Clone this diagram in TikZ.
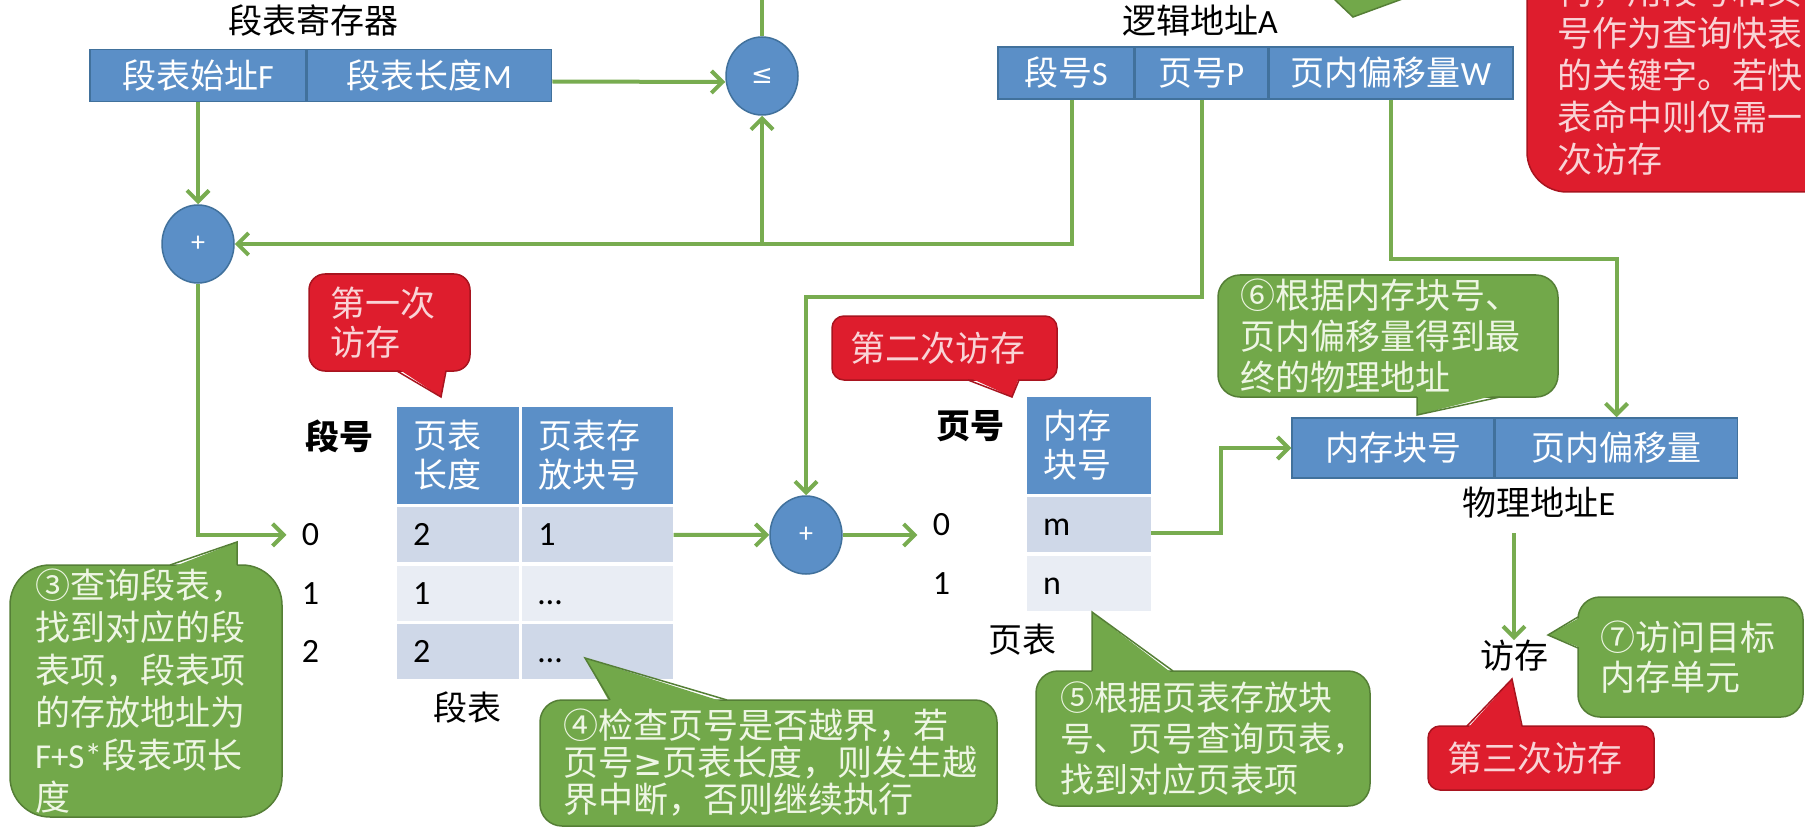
\documentclass[tikz,border=0pt]{standalone}
\usepackage{fontspec}
\setmainfont{Noto Sans CJK SC}
\newfontfamily\lat{Carlito}
\newfontfamily\sym{DejaVu Sans}
\usetikzlibrary{shapes.geometric, arrows.meta, positioning, calc}
\definecolor{boxblue}{HTML}{5B8FC7}
\definecolor{boxedge}{HTML}{41719C}
\definecolor{rowdark}{HTML}{CFD8E8}
\definecolor{rowlight}{HTML}{E9EDF4}
\definecolor{notegreen}{HTML}{72A84A}
\definecolor{noteedge}{HTML}{557F36}
\definecolor{notetext}{HTML}{EEF6E4}
\definecolor{hitred}{HTML}{DE1D2D}
\definecolor{hitedge}{HTML}{A8141F}
\definecolor{hittext}{HTML}{F9D3D6}
\definecolor{flowgreen}{HTML}{78AC50}

\begin{document}
\begin{tikzpicture}[
    x=1pt, y=-1pt,
    txt/.style={font=\fontsize{34}{40}\selectfont, inner sep=0pt},
    regcell/.style={rectangle, draw=boxedge, line width=1.5pt, fill=boxblue, text=white, font=\fontsize{34}{40}\selectfont, minimum height=52pt, inner sep=0pt},
    opnode/.style={ellipse, draw=boxedge, line width=1.5pt, fill=boxblue, text=white, minimum width=72pt, minimum height=78pt, inner sep=0pt, font=\lat\fontsize{28}{30}\selectfont},
    headcell/.style={rectangle, fill=boxblue, text=white, font=\fontsize{34}{39}\selectfont, align=left, inner xsep=16pt, inner ysep=0pt, minimum height=97pt},
    rowcell/.style={rectangle, font=\lat\fontsize{34}{40}\selectfont, align=left, inner xsep=16pt, inner ysep=0pt, minimum height=55pt, text height=22pt, text depth=0pt},
    rowlab/.style={font=\lat\fontsize{34}{40}\selectfont, minimum width=48pt, inner sep=0pt},
    note/.style={rectangle, rounded corners=22pt, draw=noteedge, line width=1.5pt, fill=notegreen, text=notetext, font=\fontsize{35}{41}\selectfont, align=left, inner sep=0pt},
    hit/.style={rectangle, rounded corners=12pt, draw=hitedge, line width=1.5pt, fill=hitred, text=hittext, font=\fontsize{35}{39}\selectfont, align=left, inner sep=0pt},
    noteline/.style={draw=noteedge, line width=1.5pt},
    hitline/.style={draw=hitedge, line width=1.5pt},
    flow/.style={draw=flowgreen, line width=4pt},
    arrow/.style={flow, -{Straight Barb[length=11pt, width=22pt]}}
]
\useasboundingbox (0,0) rectangle (1805,829);
\clip (0,0) rectangle (1805,829);
\fill[white] (0,0) rectangle (1805,829);

% Registers and addresses
\node[txt] (reglab) at (313,21) {段表寄存器};
\node[regcell, minimum width=216pt] (regF) at (198,75.5) {段表始址{\lat F}};
\node[regcell, minimum width=244pt, right=0pt of regF] (regM) {段表长度{\lat M}};

\node[txt] (loglab) at (1200,21) {逻辑地址{\lat A}};
\node[regcell, minimum width=136pt] (lS) at (1066,73) {段号{\lat S}};
\node[regcell, minimum width=132pt, right=0pt of lS] (lP) {页号{\lat P}};
\node[regcell, minimum width=244pt, right=0pt of lP] (lW) {页内偏移量{\lat W}};

\node[opnode, font=\sym\fontsize{26}{30}\selectfont] (leq) at (762,76) {≤};
\node[opnode] (plus1) at (198,244) {+};
\node[opnode] (plus2) at (806,535) {+};

% Segment table
\node[txt, font=\bfseries\fontsize{34}{40}\selectfont] (seghd) at (339,436) {段号};
\node[headcell, text width=90pt] (sh1) at (458,455.5) {页表\\长度};
\node[headcell, text width=119pt, right=3pt of sh1] (sh2) {页表存\\放块号};
\node[rowcell, fill=rowdark, text width=90pt, below=3pt of sh1] (s00) {2};
\node[rowcell, fill=rowdark, text width=119pt, below=3pt of sh2] (s01) {1};
\node[rowcell, fill=rowlight, text width=90pt, below=3pt of s00] (s10) {1};
\node[rowcell, fill=rowlight, text width=119pt, below=3pt of s01] (s11) {…};
\node[rowcell, fill=rowdark, text width=90pt, below=3pt of s10] (s20) {2};
\node[rowcell, fill=rowdark, text width=119pt, below=3pt of s11] (s21) {…};
\node[rowlab, left=62pt of s00] (sl0) {0};
\node[rowlab, left=62pt of s10] (sl1) {1};
\node[rowlab, left=62pt of s20] (sl2) {2};
\node[txt] (segname) at (467,708) {段表};

% Page table
\node[txt, font=\bfseries\fontsize{34}{40}\selectfont] (pghd) at (970,426) {页号};
\node[headcell, text width=92pt] (ph) at (1089,445.5) {内存\\块号};
\node[rowcell, fill=rowdark, text width=92pt, below=3pt of ph] (pr0) {m};
\node[rowcell, fill=rowlight, text width=92pt, below=3pt of pr0] (pr1) {n};
\node[rowlab, left=61pt of pr0] (pl0) {0};
\node[rowlab, left=61pt of pr1] (pl1) {1};
\node[txt] (pgname) at (1022,640) {页表};

% Physical address
\node[regcell, minimum width=202pt, minimum height=60pt] (pBlk) at (1393,448) {内存块号};
\node[regcell, minimum width=242pt, minimum height=60pt, right=0pt of pBlk] (pOff) {页内偏移量};
\node[txt] (physlab) at (1539,503) {物理地址{\lat E}};
\node[txt] (access) at (1514,656) {访存};

% Arrows
\coordinate (leqout) at (762,0);
\coordinate (sbend) at (leq |- plus1);
\coordinate (pbend) at (plus2 |- 0,297);
\coordinate (wbend) at (pOff |- 0,259);
\coordinate (accin) at (access |- 0,533);
\draw[arrow] (regF) -- (plus1);
\draw[arrow] ([yshift=-6pt]regM.east) -- ([yshift=-6pt]leq.west);
\draw[flow] (leq) -- (leqout);
\draw[arrow] ([xshift=6pt]lS.south) |- (plus1);
\draw[arrow] (sbend) -- (leq);
\draw[arrow] (lP) |- (pbend) -- (plus2);
\draw[arrow] (lW) |- (wbend) -- (pOff);
\draw[arrow] (plus1) |- (sl0);
\draw[arrow] (s01) -- (plus2);
\draw[arrow] (plus2) -- (plus2 -| pl0.west);
\draw[arrow] ([yshift=-8pt]pr0.east) -- ++(70,0) |- (pBlk);
\draw[arrow] (accin) -- (access);

% Callouts
\node[note, minimum width=272pt, minimum height=252pt, text width=222pt, rounded corners=40pt, font=\fontsize{35}{42.5}\selectfont] (c3) at (146,691) {③查询段表，\\找到对应的段\\表项，段表项\\的存放地址为\\{\lat F+S*}段表项长\\度};
\fill[notegreen] (170,568) -- (237,542) -- (237,568) -- cycle;
\draw[noteline] (170,565) -- (237,542) -- (237,565);

\node[note, minimum width=457pt, minimum height=126pt, text width=411pt, font=\fontsize{35}{37}\selectfont] (c4) at (768.5,763) {④检查页号是否越界，若\\页号{\sym ≥}页表长度，则发生越\\界中断，否则继续执行};
\fill[notegreen] (610,703) -- (585,658) -- (727,703) -- cycle;
\draw[noteline] (610,700) -- (585,658) -- (727,700);

\node[note, minimum width=334pt, minimum height=135pt, text width=286pt, font=\fontsize{34}{41}\selectfont] (c5) at (1203,738.5) {⑤根据页表存放块\\号、页号查询页表，\\找到对应页表项};
\fill[notegreen] (1092,674) -- (1092,612) -- (1173,674) -- cycle;
\draw[noteline] (1092,671) -- (1092,612) -- (1173,671);

\node[note, minimum width=340pt, minimum height=122pt, text width=296pt] (c6) at (1388,336) {⑥根据内存块号、\\页内偏移量得到最\\终的物理地址};
\fill[notegreen] (1417,394) -- (1417,415) -- (1500,394) -- cycle;
\draw[noteline] (1417,397) -- (1417,415) -- (1500,397);

\node[note, minimum width=225pt, minimum height=120pt, text width=181pt, font=\fontsize{35}{40}\selectfont] (c7) at (1690.5,657) {⑦访问目标\\内存单元};
\fill[notegreen] (1581,617) -- (1548,635) -- (1581,648) -- cycle;
\draw[noteline] (1578,617) -- (1548,635) -- (1578,648);

\node[hit, minimum width=161pt, minimum height=97pt, text width=119pt, rounded corners=16pt] (r1) at (389.5,322.5) {第一次\\访存};
\fill[hitred] (397,368) -- (441,397) -- (446,368) -- cycle;
\draw[hitline] (397,371) -- (441,397) -- (446,371);

\node[hit, minimum width=225pt, minimum height=64pt, text width=189pt] (r2) at (944.5,348) {第二次访存};
\fill[hitred] (968,377) -- (1012,397) -- (1019,377) -- cycle;
\draw[hitline] (968,380) -- (1012,397) -- (1019,380);

\node[hit, minimum width=226pt, minimum height=64pt, text width=188pt] (r3) at (1541,758) {第三次访存};
\fill[hitred] (1467,729) -- (1512,679) -- (1522,729) -- cycle;
\draw[hitline] (1467,726) -- (1512,679) -- (1522,726);

% Cut-off callouts at the top edge
\node[hit, minimum width=360pt, minimum height=234pt, text width=300pt, rounded corners=40pt, font=\fontsize{35}{42}\selectfont] (r0) at (1707,75) {构，用段号和页\\号作为查询快表\\的关键字。若快\\表命中则仅需一\\次访存};
\fill[notegreen] (1333,-2) -- (1353,17) -- (1405,-2) -- cycle;
\draw[noteline] (1333,-2) -- (1353,17) -- (1405,-2);

\end{tikzpicture}
\end{document}
